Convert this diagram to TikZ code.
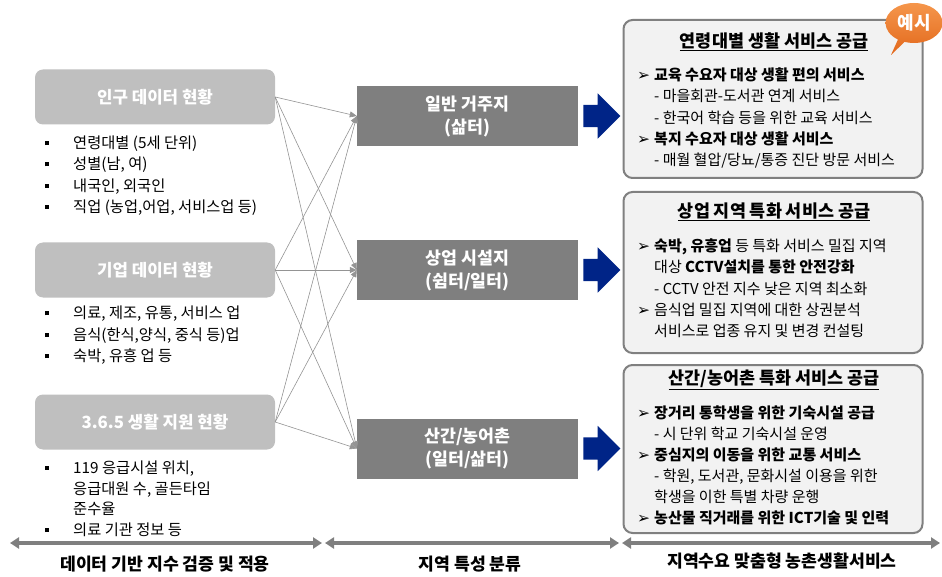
\documentclass[tikz,border=0pt]{standalone}
\usepackage{fontspec}
\setmainfont{Noto Sans CJK KR}
\newfontfamily\dejavu{DejaVu Sans}
\usepackage{xcolor}
\usetikzlibrary{arrows.meta,positioning,shapes.arrows,shapes.callouts}

\definecolor{srcgray}{RGB}{191,191,191}
\definecolor{areagray}{RGB}{127,127,127}
\definecolor{navyblue}{RGB}{0,36,135}
\definecolor{svcfill}{RGB}{242,242,242}
\definecolor{svcline}{RGB}{128,128,128}
\definecolor{bubbletop}{RGB}{245,150,75}
\definecolor{bubblebottom}{RGB}{226,104,28}

\newcommand{\bul}{\makebox[32pt][l]{\hspace{4pt}\rule[3.5pt]{4pt}{4pt}}}
\newcommand{\cont}{\hspace*{32pt}}
\newcommand{\pnt}{\makebox[17pt][l]{\dejavu\fontsize{15.5}{21}\selectfont ➢}}
\newcommand{\ind}{\hspace*{17pt}}

\begin{document}
\begin{tikzpicture}[x=1pt, y=-1pt,
  srcbox/.style={fill=srcgray, rounded corners=8pt, minimum width=240pt,
                 minimum height=55pt, text=white,
                 font=\fontsize{16.8}{20}\selectfont\bfseries},
  areabox/.style={fill=areagray, minimum width=221pt, minimum height=60pt,
                  text=white, align=center,
                  font=\fontsize{17.3}{23}\selectfont\bfseries},
  svcbox/.style={draw=svcline, line width=2pt, fill=svcfill,
                 rounded corners=9pt, minimum width=299pt},
  svctitle/.style={font=\fontsize{17.4}{20}\selectfont\bfseries},
  txtblock/.style={anchor=base west, inner sep=0pt, align=left,
                   font=\fontsize{15}{21.2}\selectfont},
  srclist/.style={txtblock, font=\fontsize{15.3}{21.3}\selectfont},
  link/.style={draw=black!42, line width=0.6pt,
                -{Triangle[length=7pt,width=6pt]}},
  bigarrow/.style={single arrow, fill=navyblue, inner sep=0pt,
                   text height=22pt, text depth=0pt, text width=0pt,
                   minimum height=37pt, single arrow head extend=11.5pt,
                   single arrow head indent=0pt},
  span/.style={draw=areagray, line width=3.5pt,
               {Triangle[length=9pt,width=11pt]}-{Triangle[length=9pt,width=11pt]}},
  steplabel/.style={font=\fontsize{17.2}{20}\selectfont\bfseries},
]
\useasboundingbox (0,0) rectangle (942,577);

% data sources
\node[srcbox] (s1) at (155,97) {인구 데이터 현황};
\node[srcbox] (s2) at (155,270) {기업 데이터 현황};
\node[srcbox] (s3) at (155,422) {3.6.5 생활 지원 현황};

% lists are anchored at the baseline of their last line
\node[srclist] (s1l) at (41,212.5)
  {\bul 연령대별 (5세 단위)\\
   \bul 성별(남, 여)\\
   \bul 내국인, 외국인\\
   \bul 직업 (농업,어업, 서비스업 등)};
\node[srclist] (s2l) at (41,361.5)
  {\bul 의료, 제조, 유통, 서비스 업\\
   \bul 음식(한식,양식, 중식 등)업\\
   \bul 숙박, 유흥 업 등};
\node[srclist, font=\fontsize{15.3}{20.7}\selectfont] (s3l) at (41,535.5)
  {\bul 119 응급시설 위치,\\
   \cont 응급대원 수, 골든타임\\
   \cont 준수율\\
   \bul 의료 기관 정보 등};

% area types
\node[areabox] (m1) at (467.5,116) {일반 거주지\\(삶터)};
\node[areabox] (m2) at (467.5,270) {상업 시설지\\(쉼터/일터)};
\node[areabox] (m3) at (467.5,448.5) {산간/농어촌\\(일터/삶터)};

\foreach \s in {s1,s2,s3}
  \foreach \t in {m1,m2,m3}
    \draw[link] (\s.east) -- (\t.west);

% services
\node[svcbox, minimum height=158pt] (r1) at (773,99) {};
\node[svcbox, minimum height=161pt] (r2) at (773,272.5) {};
\node[svcbox, minimum height=168pt] (r3) at (773,449) {};

\node[bigarrow, right=5pt of m1] (a1) {};
\node[bigarrow, right=5pt of m2] (a2) {};
\node[bigarrow, right=5pt of m3] (a3) {};

\node[svctitle] (r1t) at (774,42) {\underline{연령대별 생활 서비스 공급}};
\node[svctitle] (r2t) at (774,212) {\underline{상업 지역 특화 서비스 공급}};
\node[svctitle] (r3t) at (774,380) {\underline{산간/농어촌 특화 서비스 공급}};

\node[txtblock] (r1b) at (637,165.5)
  {\pnt\textbf{교육 수요자 대상 생활 편의 서비스}\\
   \ind - 마을회관-도서관 연계 서비스\\
   \ind - 한국어 학습 등을 위한 교육 서비스\\
   \pnt\textbf{복지 수요자 대상 생활 서비스}\\
   \ind - 매월 혈압/당뇨/통증 진단 방문 서비스};
\node[txtblock] (r2b) at (637,336.5)
  {\pnt\textbf{숙박, 유흥업} 등 특화 서비스 밀집 지역\\
   \ind 대상 \textbf{CCTV설치를 통한 안전강화}\\
   \ind - CCTV 안전 지수 낮은 지역 최소화\\
   \pnt 음식업 밀집 지역에 대한 상권분석\\
   \ind 서비스로 업종 유지 및 변경 컨설팅};
\node[txtblock, font=\fontsize{15}{21}\selectfont] (r3b) at (637,523.5)
  {\pnt\textbf{장거리 통학생을 위한 기숙시설 공급}\\
   \ind - 시 단위 학교 기숙시설 운영\\
   \pnt\textbf{중심지의 이동을 위한 교통 서비스}\\
   \ind - 학원, 도서관, 문화시설 이용을 위한\\
   \ind 학생을 이한 특별 차량 운행\\
   \pnt\textbf{농산물 직거래를 위한 ICT기술 및 인력}};

% example bubble
\node[ellipse callout, top color=bubbletop, bottom color=bubblebottom,
      minimum width=57pt, minimum height=40pt,
      inner sep=0pt, text=white, font=\fontsize{18}{20}\selectfont\bfseries,
      callout absolute pointer={(891,55)}] (ex) at (914,23) {예시};

% stage spans
\coordinate (p0) at (10,543);
\coordinate (p1) at (322,543);
\coordinate (p2) at (325,543);
\coordinate (p3) at (619,543);
\coordinate (p4) at (622,543);
\coordinate (p5) at (940,543);
\draw[span] (p0) -- (p1);
\draw[span] (p2) -- (p3);
\draw[span] (p4) -- (p5);
\node[steplabel] (t1) at (165,564) {데이터 기반 지수 검증 및 적용};
\node[steplabel] (t2) at (470,564) {지역 특성 분류};
\node[steplabel] (t3) at (782,561) {지역수요 맞춤형 농촌생활서비스};
\end{tikzpicture}
\end{document}
